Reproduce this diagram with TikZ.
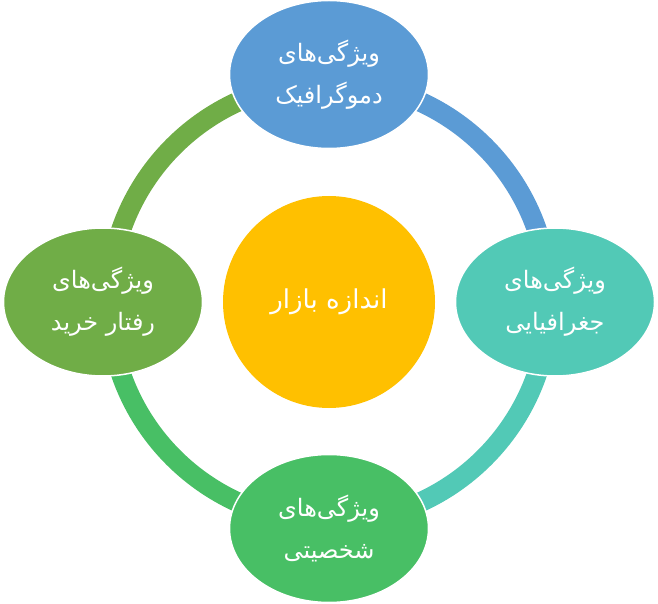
\documentclass[tikz,border=0pt]{standalone}
\usepackage{fontspec}
\usetikzlibrary{shapes.geometric}
\TeXXeTstate=1
\newfontfamily\arabicfont[Script=Arabic]{DejaVu Sans}
\definecolor{cblue}{HTML}{5B9BD5}
\definecolor{cteal}{HTML}{52C9B6}
\definecolor{cgreen}{HTML}{48BF65}
\definecolor{colive}{HTML}{70AD47}
\definecolor{cyellow}{HTML}{FFC000}
\tikzset{
  ring/.style={line width=20pt},
  petal/.style={ellipse, draw=white, line width=1.5pt, minimum width=199pt, minimum height=148pt, inner sep=0pt, text=white, align=center,
    font=\arabicfont\fontsize{24}{42}\selectfont},
  hub/.style={circle, minimum size=212pt, inner sep=0pt, fill=cyellow, text=white,
    font=\arabicfont\fontsize{26}{30}\selectfont}
}
\begin{document}
\begin{tikzpicture}[x=1pt,y=1pt]
\useasboundingbox (0,0) rectangle (658,603);
\coordinate (c) at (329,301);
\draw[ring, cblue]  ([shift={(90:220pt)}]c) arc[start angle=90, end angle=0, radius=220pt];
\draw[ring, cteal]  ([shift={(0:220pt)}]c) arc[start angle=0, end angle=-90, radius=220pt];
\draw[ring, cgreen] ([shift={(-90:220pt)}]c) arc[start angle=-90, end angle=-180, radius=220pt];
\draw[ring, colive] ([shift={(180:220pt)}]c) arc[start angle=180, end angle=90, radius=220pt];
\node[hub] (hub) at (c) {\beginR اندازه بازار\endR};
\node[petal, fill=cblue] (top) at (329,528.5) {\beginR ویژگی‌های\endR\\\beginR دموگرافیک\endR};
\node[petal, fill=cteal] (right) at (555,301) {\beginR ویژگی‌های\endR\\\beginR جغرافیایی\endR};
\node[petal, fill=cgreen] (bottom) at (329,74.5) {\beginR ویژگی‌های\endR\\\beginR شخصیتی\endR};
\node[petal, fill=colive] (left) at (103,301) {\beginR ویژگی‌های\endR\\\beginR رفتار خرید\endR};
\end{tikzpicture}
\end{document}
